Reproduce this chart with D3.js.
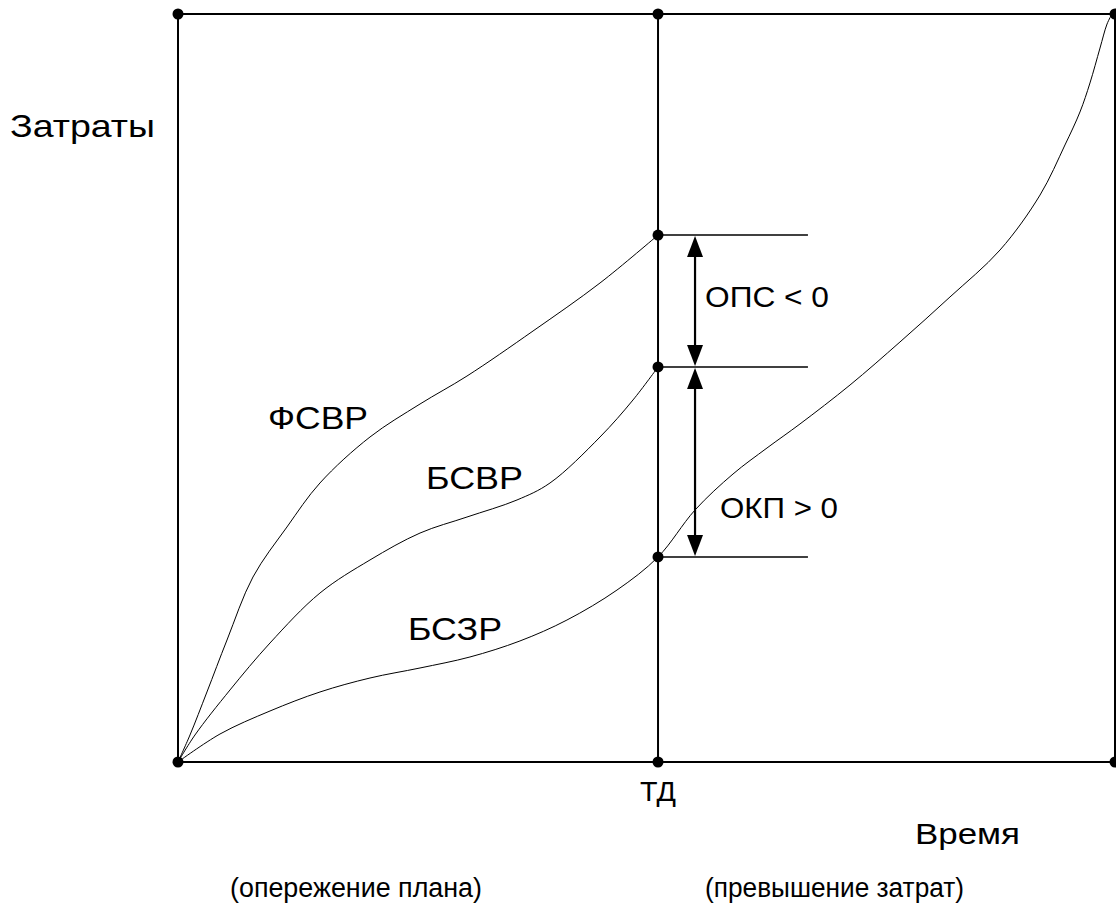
<!DOCTYPE html>
<html>
<head>
<meta charset="utf-8">
<script src="https://cdn.jsdelivr.net/npm/d3@7"></script>
<style>
  html, body { margin: 0; padding: 0; background: #fff; }
  svg { display: block; }
  text { font-family: "Liberation Sans", Arial, sans-serif; fill: #000; }
</style>
</head>
<body>
<script>
// ********************************** //
// ** Data (time 0..100, cost 0..100)
// ********************************** //
const timeTD = 51.23; // контрольная дата (ТД)

// ФСВР - фактическая стоимость выполненных работ
const fsvr = [
  [0, 0], [1.28, 3.61], [3.09, 9.36], [5.23, 16.31], [8.0, 24.73],
  [11.63, 31.42], [15.15, 37.3], [20.49, 43.45], [25.83, 47.86],
  [30.84, 51.6], [37.89, 57.62], [45.04, 64.04], [51.23, 70.45]
];
// БСВР - бюджетная стоимость выполненных работ
const bsvr = [
  [0, 0], [1.81, 3.61], [5.55, 9.63], [9.82, 15.91], [15.15, 22.59],
  [20.49, 27.01], [25.83, 30.61], [30.84, 32.75], [36.18, 35.03],
  [39.7, 37.3], [45.04, 43.45], [48.56, 48.4], [51.23, 52.81]
];
// БСЗР - бюджетная стоимость запланированных работ
const bszr = [
  [0, 0], [4.48, 3.74], [9.82, 6.82], [15.15, 9.36], [20.49, 11.23],
  [25.83, 12.57], [31.16, 14.04], [36.49, 16.18], [41.51, 18.98],
  [46.85, 22.99], [51.23, 27.41], [55.18, 33.69], [59.23, 38.5],
  [62.86, 41.98], [66.38, 45.19], [71.72, 50.4], [77.05, 56.15],
  [82.39, 62.17], [87.73, 68.45], [92.0, 75.8], [94.66, 82.49],
  [96.26, 86.9], [97.33, 90.78], [98.4, 95.45], [99.15, 98.66], [99.68, 100]
];

const levelsAtTD = [70.45, 52.81, 27.41]; // ФСВР, БСВР, БСЗР на ТД
const cornerTimes = [0, timeTD, 100];
const cornerCosts = [0, 100];

const curveNames = ["ФСВР", "БСВР", "БСЗР"];
const gapNames = ["ОПС < 0", "ОКП > 0"];
const axisNames = ["Затраты", "ТД", "Время"];
const zoneNames = ["(опережение плана)", "(превышение затрат)"];

// ********************************** //
// ** Layout of the labels
// ********************************** //
// [x, baseline y, font size, rendered width]
const curveLabelPos = [[268, 429, 31, 100], [426, 489, 31, 97], [408, 640, 31, 94]];
const gapLabelPos = [[705, 307, 29, 124], [720, 518, 29, 118]];
const axisLabelPos = [[10, 137, 32, 145], [640, 801, 28, 36], [915, 844, 30, 105]];
const zoneLabelPos = [[230, 897, 27, 252], [705, 897, 27, 259]];

// ********************************** //
// ** Graphing
// ********************************** //
const width = 1116;
const height = 908;

const svg = d3.select("body")
  .append("svg")
  .attr("width", width)
  .attr("height", height);

const x = d3.scaleLinear().domain([0, 100]).range([178, 1115]);
const y = d3.scaleLinear().domain([0, 100]).range([762, 14]);

// frame: box edges + TD line
const frame = svg.append("g")
  .attr("stroke", "#000")
  .attr("stroke-width", 2);

cornerCosts.forEach(c => {
  frame.append("line")
    .attr("x1", x(0)).attr("x2", x(100))
    .attr("y1", y(c)).attr("y2", y(c));
});
cornerTimes.forEach(t => {
  frame.append("line")
    .attr("x1", x(t)).attr("x2", x(t))
    .attr("y1", y(0)).attr("y2", y(100));
});

// short horizontal lines to the right of TD
svg.append("g")
  .selectAll("line")
  .data(levelsAtTD)
  .join("line")
  .attr("x1", x(timeTD))
  .attr("x2", x(timeTD + 16))
  .attr("y1", d => y(d))
  .attr("y2", d => y(d))
  .attr("stroke", "#000")
  .attr("stroke-width", 1.6);

// curves
const line = d3.line()
  .x(d => x(d[0]))
  .y(d => y(d[1]))
  .curve(d3.curveCatmullRom.alpha(0.5));

svg.append("g")
  .selectAll("path")
  .data([fsvr, bsvr, bszr])
  .join("path")
  .attr("d", line)
  .attr("fill", "none")
  .attr("stroke", "#000")
  .attr("stroke-width", 1);

// double arrows between the levels
const arrowX = x(timeTD + 3.95);
const headLen = 22;
const headHalf = 8;
const arrowPairs = d3.pairs(levelsAtTD);
const arrows = svg.append("g");
arrowPairs.forEach(([top, bottom]) => {
  const y1 = y(top);
  const y2 = y(bottom);
  arrows.append("line")
    .attr("x1", arrowX).attr("x2", arrowX)
    .attr("y1", y1 + headLen - 2).attr("y2", y2 - headLen + 2)
    .attr("stroke", "#000")
    .attr("stroke-width", 2.2);
  arrows.append("path")
    .attr("d", `M${arrowX},${y1 + 1}L${arrowX - headHalf},${y1 + headLen}L${arrowX + headHalf},${y1 + headLen}Z`)
    .attr("fill", "#000");
  arrows.append("path")
    .attr("d", `M${arrowX},${y2 - 1}L${arrowX - headHalf},${y2 - headLen}L${arrowX + headHalf},${y2 - headLen}Z`)
    .attr("fill", "#000");
});

// dots
const dots = [];
cornerTimes.forEach(t => cornerCosts.forEach(c => dots.push([t, c])));
levelsAtTD.forEach(c => dots.push([timeTD, c]));

svg.append("g")
  .selectAll("circle")
  .data(dots)
  .join("circle")
  .attr("cx", d => x(d[0]))
  .attr("cy", d => y(d[1]))
  .attr("r", 5.5)
  .attr("fill", "#000");

// labels (slightly stretched, as in the source drawing)
const addLabels = (names, pos) => {
  svg.append("g")
    .selectAll("text")
    .data(names)
    .join("text")
    .attr("x", (d, i) => pos[i][0])
    .attr("y", (d, i) => pos[i][1])
    .attr("font-size", (d, i) => pos[i][2])
    .attr("textLength", (d, i) => pos[i][3])
    .attr("lengthAdjust", "spacingAndGlyphs")
    .text(d => d);
};
addLabels(curveNames, curveLabelPos);
addLabels(gapNames, gapLabelPos);
addLabels(axisNames, axisLabelPos);
addLabels(zoneNames, zoneLabelPos);
</script>
</body>
</html>
